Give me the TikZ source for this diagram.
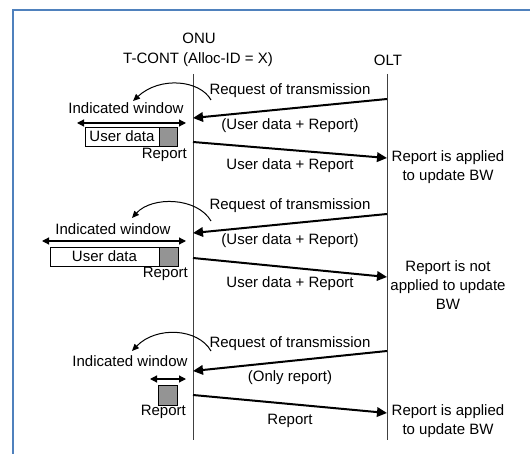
\documentclass[tikz,border=0pt]{standalone}
\usepackage{fontspec}
\setmainfont{Liberation Sans}
\usetikzlibrary{positioning,arrows.meta}
\definecolor{framecol}{RGB}{79,129,189}

\begin{document}
\begin{tikzpicture}
  [%%%%%%%%%%%%%%%%%%%%%%%%%%%%%%%%%%%%%%%%%%%%%%%%%%%%%%%%%%
    x=1pt,y=-1pt,>=Triangle,
    font=\fontsize{15}{19}\selectfont,
    every node/.style={inner sep=0pt},
    lane/.style={draw=black!75,line width=1pt},
    msg/.style={-{Triangle[length=10pt,width=9.5pt]},line width=2pt},
    win/.style={{Triangle[length=7pt,width=7pt]}-{Triangle[length=7pt,width=7pt]},line width=1.2pt},
    hint/.style={-{Triangle[length=7pt,width=6pt]},line width=1pt},
    databox/.style={draw,fill=white,line width=0.9pt,minimum height=19pt},
    repbox/.style={draw,fill=black!42,line width=0.9pt,minimum height=19pt,minimum width=19pt},
    note/.style={align=center}
  ]%%%%%%%%%%%%%%%%%%%%%%%%%%%%%%%%%%%%%%%%%%%%%%%%%%%%%%%%%%
  \useasboundingbox (0,0) rectangle (530,454);
  \draw[framecol,line width=2.5pt] (13,454) -- (13,10) -- (530,10);

  \node (onu) at (199,38) {ONU};
  \node (tcont) at (198,60) {T-CONT (Alloc-ID = X)};
  \node (olt) at (388,60) {OLT};
  \coordinate (onuT) at (193,74); \coordinate (onuB) at (193,440);
  \coordinate (oltT) at (387,74); \coordinate (oltB) at (387,440);
  \draw[lane] (onuT) -- (onuB);
  \draw[lane] (oltT) -- (oltB);

  % user data + report, report used
  \coordinate (req1) at (387,99); \coordinate (ack1) at (193,118);
  \draw[msg] (req1) to node[above=9.5pt] {Request of transmission}
                       node[below=9.5pt] {(User data + Report)} (ack1);
  \coordinate (h1s) at (211,100); \coordinate (h1e) at (133,101);
  \draw[hint] (h1s) .. controls (200,80) and (160,76) .. (h1e);
  \node (ind1) at (126,108) {Indicated window};
  \coordinate (w1l) at (77,123); \coordinate (w1r) at (186,123);
  \draw[win] (w1l) -- (w1r);
  \node[databox,minimum width=74pt] (data1) at (122,136.5) {User data};
  \node[repbox,minimum width=18pt,right=0pt of data1] (rep1) {};
  \node[anchor=east] (rl1) at (187,155) {Report};
  \coordinate (up1) at (193,142); \coordinate (bw1) at (387,158);
  \draw[msg] (up1) to node[below=8pt] {User data + Report} (bw1);
  \node[note] (upd1) at (448,167) {Report is applied\\to update BW};

  % user data + report, report not used
  \coordinate (req2) at (387,214); \coordinate (ack2) at (193,233);
  \draw[msg] (req2) to node[above=9.5pt] {Request of transmission}
                       node[below=9.5pt] {(User data + Report)} (ack2);
  \coordinate (h2s) at (211,221); \coordinate (h2e) at (132,218);
  \draw[hint] (h2s) .. controls (197,197) and (152,196) .. (h2e);
  \node (ind2) at (113,229) {Indicated window};
  \coordinate (w2l) at (42,241); \coordinate (w2r) at (186,241);
  \draw[win] (w2l) -- (w2r);
  \node[databox,minimum width=109pt] (data2) at (104.5,256.5) {User data};
  \node[repbox,right=0pt of data2] (rep2) {};
  \node[anchor=east] (rl2) at (188,274) {Report};
  \coordinate (up2) at (193,258); \coordinate (bw2) at (387,277);
  \draw[msg] (up2) to node[below=8pt] {User data + Report} (bw2);
  \node[note] (upd2) at (448,285.5) {Report is not\\applied to update\\BW};

  % only report
  \coordinate (req3) at (387,351); \coordinate (ack3) at (193,371);
  \draw[msg] (req3) to node[above=9pt] {Request of transmission}
                       node[below=9pt] {(Only report)} (ack3);
  \coordinate (h3s) at (211,351); \coordinate (h3e) at (132,351);
  \draw[hint] (h3s) .. controls (198,328) and (156,326) .. (h3e);
  \node (ind3) at (130,361) {Indicated window};
  \coordinate (w3l) at (150,379); \coordinate (w3r) at (186,379);
  \draw[win] (w3l) -- (w3r);
  \node[repbox,minimum height=20pt] (rep3) at (167.5,395) {};
  \node[anchor=east] (rl3) at (186,412) {Report};
  \coordinate (up3) at (193,395); \coordinate (bw3) at (387,413);
  \draw[msg] (up3) to node[below=9pt] {Report} (bw3);
  \node[note] (upd3) at (448,421.5) {Report is applied\\to update BW};
\end{tikzpicture}
\end{document}
